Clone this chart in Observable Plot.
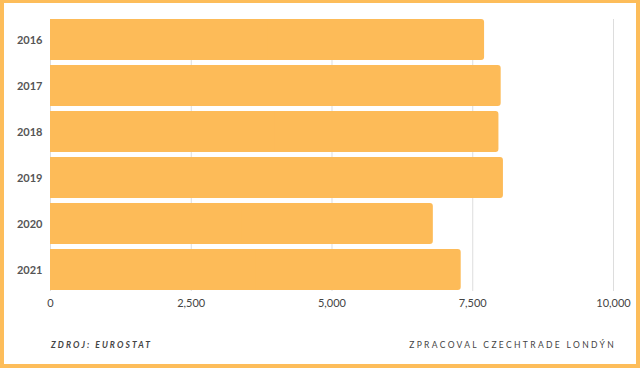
<!DOCTYPE html>
<html>
<head>
<meta charset="utf-8">
<script src="https://cdn.jsdelivr.net/npm/d3@7"></script>
<script src="https://cdn.jsdelivr.net/npm/@observablehq/plot@0.6"></script>
<style>
  html, body { margin: 0; padding: 0; background: #fff; }
  #wrap { position: relative; width: 640px; height: 368px; overflow: hidden; background: #fff; font-family: Lato, "Open Sans", sans-serif; }
  #frame { position: absolute; left: 0; top: 0; width: 640px; height: 368px; box-sizing: border-box; border: 4px solid #fdbd5a; border-top-width: 3px; pointer-events: none; }
  #chart { position: absolute; left: 0; top: 0; }
  .foot { position: absolute; top: 339px; font-size: 8.5px; letter-spacing: 2.1px; color: #444; line-height: 12px; white-space: nowrap; }
  #src { left: 51px; font-style: italic; font-weight: 700; }
  #by { right: 24px; font-weight: 400; letter-spacing: 2.35px; }
</style>
</head>
<body>
<div id="wrap">
  <div id="chart"></div>
  <div class="foot" id="src">ZDROJ: EUROSTAT</div>
  <div class="foot" id="by">ZPRACOVAL CZECHTRADE LONDÝN</div>
  <div id="frame"></div>
</div>
<script>
const years = ["2016", "2017", "2018", "2019", "2020", "2021"];
const values = [7710, 8005, 7965, 8045, 6800, 7295];
const xTicks = [0, 2500, 5000, 7500, 10000];

const data = years.map((y, i) => ({year: y, value: values[i]}));
const barColor = "#fdbb58";

const chart = Plot.plot({
  width: 640,
  height: 318,
  marginLeft: 50,
  marginRight: 27,
  marginTop: 19,
  marginBottom: 27,
  style: {fontFamily: "Lato, 'Open Sans', sans-serif", fontSize: "11px", color: "#444", background: "#fff"},
  x: {domain: [0, 10000], ticks: xTicks, tickFormat: d3.format(","), label: null},
  y: {domain: years, paddingInner: 0.1, paddingOuter: 0, label: null},
  marks: [
    Plot.gridX(xTicks, {stroke: "#ddd", strokeOpacity: 1, strokeWidth: 1}),
    Plot.barX(data, {x: "value", y: "year", fill: barColor, rx: 3}),
    Plot.barX(data, {x1: 0, x2: d => d.value / 2, y: "year", fill: barColor}),
    Plot.axisX({ticks: xTicks, tickFormat: d3.format(","), tickSize: 0, tickPadding: 8, label: null, fill: "#444"}),
    Plot.axisY({tickSize: 0, tickPadding: 8, label: null, fontWeight: "bold", fill: "#555", fontSize: 11})
  ]
});
document.getElementById("chart").appendChild(chart);
</script>
</body>
</html>
